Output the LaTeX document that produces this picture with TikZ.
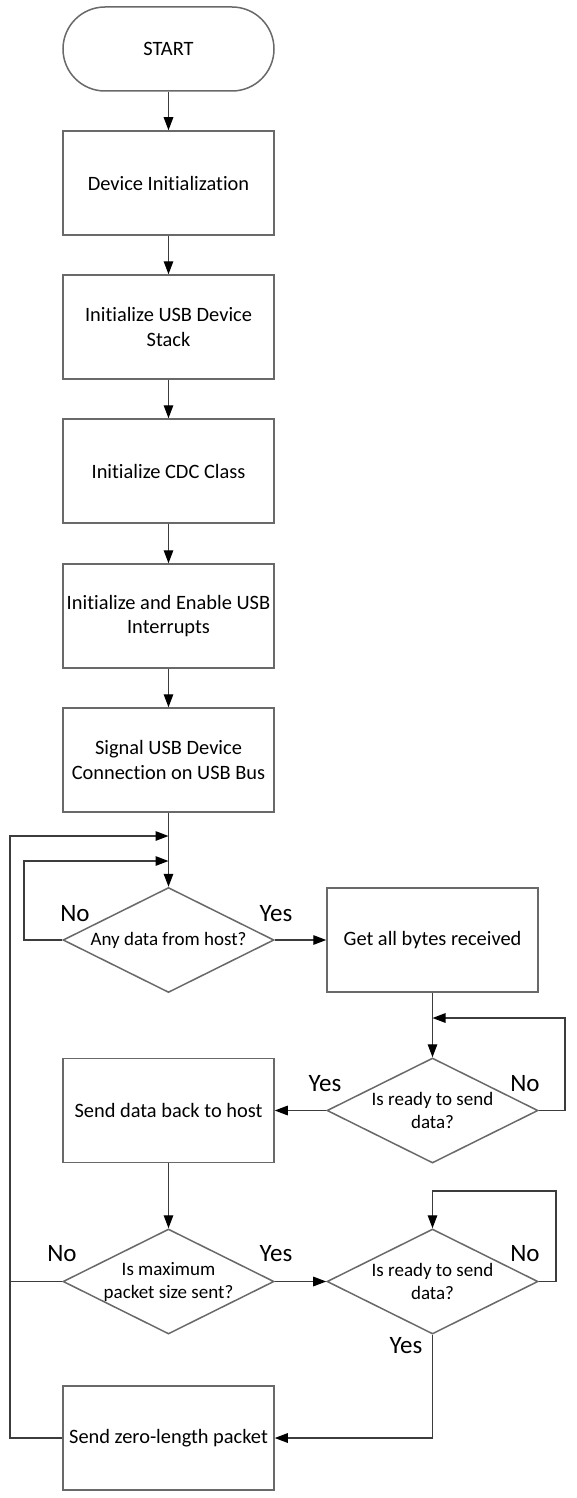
\documentclass[tikz,border=0pt]{standalone}
\usepackage{fontspec}
\setmainfont{Carlito}[Ligatures={NoCommon,NoContextual}]
\usetikzlibrary{shapes.geometric,arrows.meta}
\definecolor{shapeline}{RGB}{105,105,105}
\definecolor{connline}{RGB}{60,60,60}
\tikzset{
  boxnode/.style={draw=shapeline, line width=1.5pt, minimum width=211pt, minimum height=104pt, inner sep=0pt, align=center, font=\fontsize{20.4}{24.5}\selectfont},
  termnode/.style={draw=shapeline, line width=1.5pt, rounded corners=42pt, minimum width=211pt, minimum height=84pt, inner sep=0pt, font=\fontsize{20.4}{24.5}\selectfont},
  dianode/.style={draw=shapeline, line width=1.5pt, shape=diamond, minimum width=211pt, minimum height=105pt, inner sep=0pt},
  diatext/.style={align=center, inner sep=0pt, font=\fontsize{19}{23}\selectfont},
  lbl/.style={inner sep=0pt, font=\fontsize{25}{30}\selectfont},
  conn/.style={draw=connline, line width=1.4pt},
  arr/.style={conn, -{Triangle[length=13pt,width=9.5pt,color=black]}},
}
\begin{document}
\begin{tikzpicture}[x=1pt,y=-1pt]
\useasboundingbox (0,0) rectangle (576,1498);
\fill[white] (0,0) rectangle (576,1498);
% nodes
\node[termnode] (start) at (168.5,49) {START};
\node[boxnode] (init) at (168.5,183) {Device Initialization};
\node[boxnode] (stack) at (168.5,327) {Initialize USB Device\\Stack};
\node[boxnode] (cdc) at (168.5,471) {Initialize CDC Class};
\node[boxnode] (irq) at (168.5,616) {Initialize and Enable USB\\Interrupts};
\node[boxnode] (signal) at (168.5,760) {Signal USB Device\\Connection on USB Bus};
\node[dianode] (d1) at (168.5,940) {};
\node[diatext] (d1t) at (d1) {Any data from host?};
\node[boxnode] (get) at (432.5,940) {Get all bytes received};
\node[dianode] (d2) at (432.5,1110.5) {};
\node[diatext] (d2t) at (d2) {Is ready to send\\data?};
\node[boxnode] (back) at (168.5,1110.5) {Send data back to host};
\node[dianode] (d3) at (168.5,1281.5) {};
\node[diatext] (d3t) at (d3) {Is maximum\\packet size sent?};
\node[dianode] (d4) at (432.5,1281.5) {};
\node[diatext] (d4t) at (d4) {Is ready to send\\data?};
\node[boxnode] (zero) at (168.5,1438) {Send zero-length packet};
% coordinates
\coordinate (outerjoin) at (168.5,836);
\coordinate (innerjoin) at (168.5,861);
\coordinate (d2join) at (432.5,1018);
\coordinate (d4join) at (432.5,1191);
% connectors
\draw[arr] (start) -- (init);
\draw[arr] (init) -- (stack);
\draw[arr] (stack) -- (cdc);
\draw[arr] (cdc) -- (irq);
\draw[arr] (irq) -- (signal);
\draw[arr] (signal) -- (d1);
\draw[arr] (d1.west) -- (24,940) -- (24,861) -- (innerjoin);
\draw[conn] (d3.west) -- (10,1281.5);
\draw[arr] (zero.west) -- (10,1438) -- (10,836) -- (outerjoin);
\draw[arr] (d1) -- (get);
\draw[arr] (get) -- (d2);
\draw[arr] (d2.east) -- (565,1110.5) -- (565,1018) -- (d2join);
\draw[arr] (d2) -- (back);
\draw[arr] (back) -- (d3);
\draw[arr] (d3) -- (d4);
\draw[arr] (d4.east) -- (556,1281.5) -- (556,1191) -- (d4join) -- (d4.north);
\draw[arr] (d4.south) |- (zero.east);
% labels
\node[lbl] (l1no) at (75,914) {No};
\node[lbl] (l1yes) at (276,914) {Yes};
\node[lbl] (l2yes) at (325,1084) {Yes};
\node[lbl] (l2no) at (525,1084) {No};
\node[lbl] (l3no) at (62,1254) {No};
\node[lbl] (l3yes) at (276,1254) {Yes};
\node[lbl] (l4no) at (525,1254) {No};
\node[lbl] (l4yes) at (406,1346) {Yes};
\end{tikzpicture}
\end{document}
